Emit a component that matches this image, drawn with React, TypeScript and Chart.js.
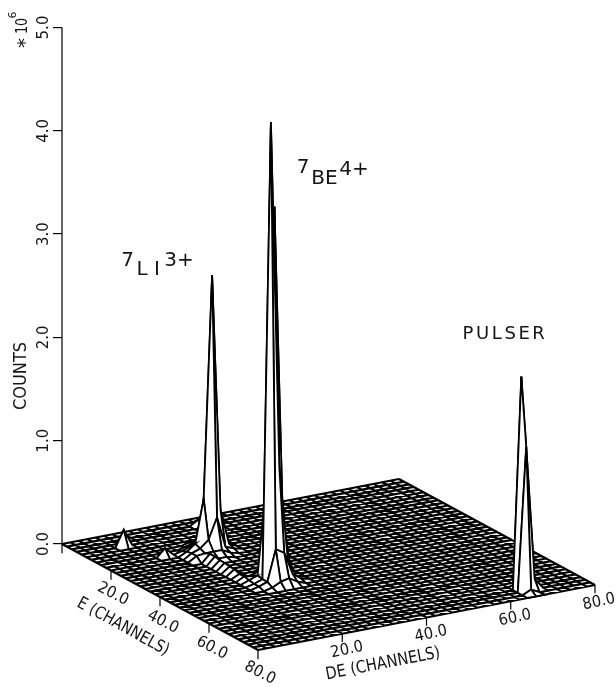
import React, { useEffect, useRef } from "react";
import { Chart, registerables } from "chart.js";

Chart.register(...registerables);

// Grid and axis values
const channelMax = 80;
const meshStep = 2;
const axisTicksE = [20, 40, 60, 80];
const axisTicksDE = [20, 40, 60, 80];
const countTicks = [0, 1, 2, 3, 4, 5];
const countTop = 5;

// Surface heights (counts x 10^6) as local windows of the 2-channel mesh
const li7OriginE = 14;
const li7OriginDE = 18;
const li7Rows = [
  [0, 0, 0.02, 0.02, 0.02, 0],
  [0, 0.02, 0.04, 0.08, 0.05, 0.02],
  [0.02, 0.05, 0.12, 0.5, 0.7, 0.04],
  [0.04, 0.1, 0.52, 2.67, 0.38, 0.04],
  [0.05, 0.08, 0.15, 0.35, 0.05, 0.02],
  [0.05, 0.06, 0.06, 0.06, 0.02, 0],
  [0, 0.05, 0.02, 0.02, 0, 0],
];
const be7OriginE = 38;
const be7OriginDE = 20;
const be7Rows = [
  [0.04, 0, 0.02, 0.03, 0.02, 0],
  [0.04, 0.03, 0.1, 0.5, 0.08, 0.02],
  [0.03, 0.06, 0.9, 3.6, 0.55, 0.03],
  [0.02, 0.05, 4.46, 1.1, 0.2, 0.02],
  [0.02, 0.05, 0.35, 0.3, 0.08, 0.02],
  [0, 0.02, 0.06, 0.08, 0.03, 0],
];
const pulserOriginE = 72;
const pulserOriginDE = 64;
const pulserRows = [
  [0, 0.02, 0],
  [0, 2.05, 0.06],
  [0, 1.4, 0.1],
  [0, 0.04, 0],
];
const ridgeDE = 20;
const ridgeE = [26, 28, 30, 32, 34, 36];
const ridgeCounts = [0.08, 0.08, 0.07, 0.07, 0.06, 0.06];
const minorPeakE = [8, 18, 4];
const minorPeakDE = [10, 14, 30];
const minorPeakCounts = [0.16, 0.08, 0.05];

const rows = [
  { e0: li7OriginE, d0: li7OriginDE, z: li7Rows },
  { e0: be7OriginE, d0: be7OriginDE, z: be7Rows },
  { e0: pulserOriginE, d0: pulserOriginDE, z: pulserRows },
];

const surface = new Map<string, number>();
const key = (e: number, d: number) => `${e},${d}`;
const setZ = (e: number, d: number, z: number) => {
  surface.set(key(e, d), Math.max(surface.get(key(e, d)) ?? 0, z));
};
ridgeE.forEach((e, i) => setZ(e, ridgeDE, ridgeCounts[i]));
minorPeakE.forEach((e, i) => setZ(e, minorPeakDE[i], minorPeakCounts[i]));
rows.forEach(({ e0, d0, z }) =>
  z.forEach((r, i) => r.forEach((v, j) => setZ(e0 + i * meshStep, d0 + j * meshStep, v)))
);
const zAt = (e: number, d: number) => surface.get(key(e, d)) ?? 0;

// Oblique projection of (E, DE, counts) onto the chart's two scales
const view = { x0: 62, zPx: 103.3, ex: 196 / 80, dx: 337 / 80, ey: 106 / 80, dy: -65 / 80 };
const project = (e: number, d: number, z: number) => ({
  x: view.x0 + e * view.ex + d * view.dx,
  y: z - (e * view.ey + d * view.dy) / view.zPx,
});
const gap = { x: NaN, y: NaN };

function buildDatasets() {
  const lineStyle = { showLine: true, pointRadius: 0, borderColor: "#000", clip: false as const };
  const out: any[] = [];

  // Floor mesh
  const floor: any[] = [];
  for (let e = 0; e <= channelMax; e += meshStep) floor.push(project(e, 0, 0), project(e, channelMax, 0), gap);
  for (let d = 0; d <= channelMax; d += meshStep) floor.push(project(0, d, 0), project(channelMax, d, 0), gap);
  out.push({ ...lineStyle, label: "floor", data: floor, borderWidth: 2.2, borderCapStyle: "butt" });

  // Axes
  const ticks: any[] = [];
  axisTicksE.forEach((e) => ticks.push(project(e, 0, 0), project(e, 0, -0.09), gap));
  axisTicksDE.forEach((d) => ticks.push(project(channelMax, d, 0), project(channelMax, d, -0.08), gap));
  out.push({ ...lineStyle, label: "floor ticks", data: ticks, borderWidth: 1.2 });
  out.push({
    ...lineStyle,
    label: "counts axis",
    data: [project(0, 0, -0.09), project(0, 0, countTop)],
    borderWidth: 1.2,
  });

  // Raised cells, back to front
  for (let d = channelMax - meshStep; d >= 0; d -= meshStep) {
    for (let e = 0; e < channelMax; e += meshStep) {
      const c = [zAt(e, d), zAt(e + meshStep, d), zAt(e + meshStep, d + meshStep), zAt(e, d + meshStep)];
      if (Math.max(...c) <= 0) continue;
      out.push({
        ...lineStyle,
        label: `cell ${e},${d}`,
        cell: true,
        borderWidth: 1.8,
        data: [
          project(e, d, c[0]),
          project(e + meshStep, d, c[1]),
          project(e + meshStep, d + meshStep, c[2]),
          project(e, d + meshStep, c[3]),
          project(e, d, c[0]),
        ],
      });
    }
  }
  return out.reverse(); // Chart.js paints the first dataset last
}

// Text
const plotFont = (size: number) => `${size}px "DejaVu Sans"`;
const axisLabels = [
  { t: "20.0", x: 113, y: 594, r: 27, s: 16, sx: 0.92 },
  { t: "40.0", x: 163, y: 622, r: 27, s: 16, sx: 0.92 },
  { t: "60.0", x: 212, y: 648, r: 27, s: 16, sx: 0.92 },
  { t: "80.0", x: 260, y: 673, r: 27, s: 16, sx: 0.92 },
  { t: "E (CHANNELS)", x: 123, y: 627, r: 29, s: 17, sx: 0.84 },
  { t: "20.0", x: 347, y: 650, r: -12, s: 16, sx: 0.92 },
  { t: "40.0", x: 431, y: 634, r: -12, s: 16, sx: 0.92 },
  { t: "60.0", x: 515, y: 618, r: -12, s: 16, sx: 0.92 },
  { t: "80.0", x: 599, y: 602, r: -12, s: 16, sx: 0.92 },
  { t: "DE (CHANNELS)", x: 383, y: 664, r: -11, s: 17, sx: 0.86 },
  { t: "COUNTS", x: 22, y: 376, r: -90, s: 17, sx: 0.95 },
  { t: "*", x: 26, y: 43, r: -90, s: 20, sx: 1 },
  { t: "10", x: 23, y: 26, r: -90, s: 15, sx: 0.85 },
  { t: "6", x: 13, y: 15, r: -90, s: 11, sx: 1 },
  { t: "7", x: 127.5, y: 261, r: 0, s: 20, sx: 1 },
  { t: "L", x: 142, y: 270, r: 0, s: 20, sx: 1 },
  { t: "I", x: 157, y: 270, r: 0, s: 20, sx: 1 },
  { t: "3+", x: 179, y: 261, r: 0, s: 20, sx: 1 },
  { t: "7", x: 303, y: 168, r: 0, s: 20, sx: 1 },
  { t: "BE", x: 324.5, y: 179, r: 0, s: 20, sx: 1 },
  { t: "4+", x: 354, y: 170, r: 0, s: 20, sx: 1 },
  { t: "PULSER", x: 505, y: 334, r: 0, s: 18, sx: 1, sp: 2.6 },
];

const cellFill = {
  id: "cellFill",
  beforeDatasetDraw(chart: any, args: any) {
    const ds = chart.data.datasets[args.index];
    if (!ds.cell) return;
    const ctx = chart.ctx;
    const pts = args.meta.data;
    ctx.save();
    ctx.beginPath();
    pts.forEach((p: any, i: number) => (i ? ctx.lineTo(p.x, p.y) : ctx.moveTo(p.x, p.y)));
    ctx.closePath();
    ctx.fillStyle = "#ffffff";
    ctx.fill();
    ctx.restore();
  },
};

const pageText = {
  id: "pageText",
  afterDraw(chart: any) {
    const ctx = chart.ctx;
    axisLabels.forEach((l: any) => {
      ctx.save();
      ctx.translate(l.x, l.y);
      ctx.rotate((l.r * Math.PI) / 180);
      ctx.scale(l.sx, 1);
      ctx.font = plotFont(l.s);
      ctx.fillStyle = "#151515";
      ctx.textAlign = "center";
      ctx.textBaseline = "middle";
      if (l.sp) (ctx as any).letterSpacing = `${l.sp}px`;
      ctx.fillText(l.t, 0, 0);
      ctx.restore();
    });
  },
};

export default function App() {
  const ref = useRef<HTMLCanvasElement>(null);
  useEffect(() => {
    const chart = new Chart(ref.current!, {
      type: "scatter",
      data: { datasets: buildDatasets() },
      plugins: [cellFill, pageText],
      options: {
        animation: false,
        responsive: false,
        events: [],
        layout: { padding: 0 },
        plugins: { legend: { display: false }, tooltip: { enabled: false } },
        scales: {
          x: { type: "linear", display: false, min: 62, max: 616 },
          y: {
            type: "linear",
            position: "left",
            min: (544 - 687) / 103.3,
            max: 544 / 103.3,
            afterFit: (s: any) => {
              s.width = 62;
              s.paddingTop = 0;
              s.paddingBottom = 0;
            },
            afterBuildTicks: (s: any) => {
              s.ticks = countTicks.map((value) => ({ value }));
            },
            border: { display: false },
            grid: { drawOnChartArea: false, drawTicks: true, tickLength: 9, color: "#000", lineWidth: 1.2 },
            ticks: {
              autoSkip: false,
              minRotation: 90,
              maxRotation: 90,
              crossAlign: "center",
              padding: -3,
              color: "#151515",
              font: { family: "DejaVu Sans", size: 15 },
              callback: (v: any) => Number(v).toFixed(1),
            },
          },
        },
      } as any,
    });
    return () => chart.destroy();
  }, []);
  return (
    <div style={{ position: "absolute", left: 0, top: 0, width: 616, height: 687, background: "#fff" }}>
      <canvas ref={ref} width={616} height={687} style={{ display: "block" }} />
    </div>
  );
}
